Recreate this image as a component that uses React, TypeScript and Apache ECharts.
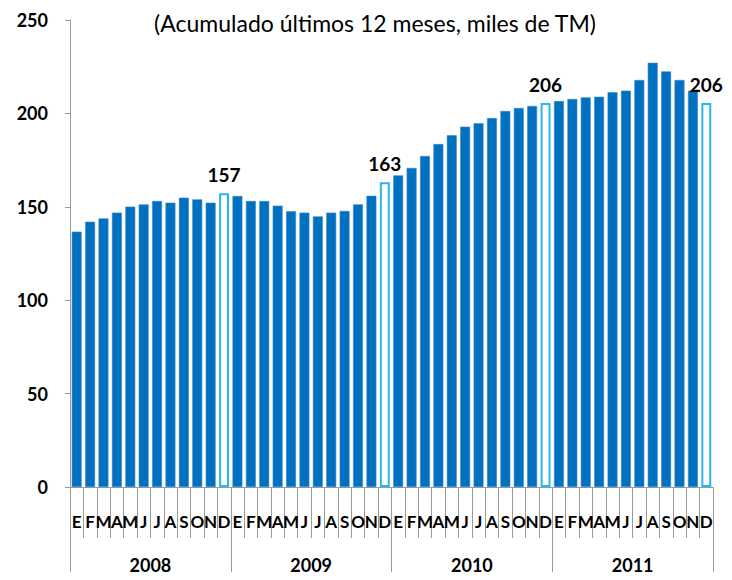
import React, { useEffect, useRef } from "react";
import * as echarts from "echarts";

const months = ["E", "F", "M", "A", "M", "J", "J", "A", "S", "O", "N", "D"];
const years = ["2008", "2009", "2010", "2011"];
const values2008 = [136.7, 142.0, 143.8, 146.9, 150.1, 151.3, 153.1, 152.2, 154.9, 154.0, 152.2, 157.3];
const values2009 = [155.8, 153.1, 153.1, 150.6, 147.6, 146.9, 144.9, 146.9, 147.8, 151.3, 155.9, 163.1];
const values2010 = [166.8, 170.8, 177.2, 183.6, 188.3, 192.9, 194.7, 197.5, 201.3, 202.9, 204.0, 205.6];
const values2011 = [206.6, 207.7, 208.6, 208.9, 211.3, 212.2, 217.9, 227.1, 222.5, 217.9, 212.2, 205.6];
const decemberLabels = ["157", "163", "206", "206"];
const yTicks = { min: 0, max: 250, interval: 50 };

const FONT = "Lato, 'Open Sans', sans-serif";

export default function App() {
  const ref = useRef<HTMLDivElement>(null);
  useEffect(() => {
    if (!ref.current) return;
    const chart = echarts.init(ref.current, undefined, { renderer: "svg" });
    const categories: string[] = [];
    const data: any[] = [];
    const all = [values2008, values2009, values2010, values2011];
    all.forEach((vals, yi) => {
      vals.forEach((v, mi) => {
        categories.push(months[mi]);
        if (mi === 11) {
          data.push({
            value: v,
            itemStyle: { color: "#ffffff", borderColor: "#27B6EE", borderWidth: 2 },
            label: {
              show: true,
              position: "top",
              distance: 9,
              formatter: decemberLabels[yi],
              fontFamily: FONT,
              fontWeight: "bold",
              fontSize: 19,
              color: "#000",
            },
          });
        } else {
          data.push({ value: v });
        }
      });
    });
    chart.setOption({
      animation: false,
      textStyle: { fontFamily: FONT },
      title: {
        text: "(Acumulado últimos 12 meses, miles de TM)",
        left: 370,
        textAlign: "center",
        top: 6,
        textStyle: { fontFamily: FONT, fontSize: 23, fontWeight: "normal", color: "#000" },
      },
      grid: { left: 70, right: 19, top: 20, bottom: 93 },
      xAxis: [
        {
          type: "category",
          data: categories,
          position: "bottom",
          axisLine: { show: true, lineStyle: { color: "#9a9a9a", width: 1 } },
          axisTick: { show: true, interval: 0, length: 51, lineStyle: { color: "#9a9a9a" } },
          axisLabel: {
            interval: 0,
            margin: 26,
            fontFamily: FONT,
            fontWeight: "bold",
            fontSize: 17,
            color: "#000",
          },
        },
        {
          type: "category",
          data: years,
          position: "bottom",
          axisLine: { show: false },
          axisTick: { show: true, interval: 0, length: 93, lineStyle: { color: "#9a9a9a" } },
          axisLabel: {
            interval: 0,
            margin: 69,
            fontFamily: FONT,
            fontWeight: "bold",
            fontSize: 18,
            color: "#000",
          },
        },
      ],
      yAxis: {
        type: "value",
        min: yTicks.min,
        max: yTicks.max,
        interval: yTicks.interval,
        splitLine: { show: false },
        axisLine: { show: true, lineStyle: { color: "#9a9a9a" } },
        axisTick: { show: true, length: 5, lineStyle: { color: "#9a9a9a" } },
        axisLabel: {
          margin: 22,
          fontFamily: FONT,
          fontWeight: "bold",
          fontSize: 18,
          color: "#000",
        },
      },
      series: [
        {
          type: "bar",
          xAxisIndex: 0,
          data,
          barCategoryGap: "26%",
          itemStyle: { color: "#0070C0", borderColor: "#3D86C8", borderWidth: 0.6 },
        },
      ],
    });
    return () => chart.dispose();
  }, []);
  return <div ref={ref} style={{ width: 732, height: 580, margin: -8 }} />;
}
